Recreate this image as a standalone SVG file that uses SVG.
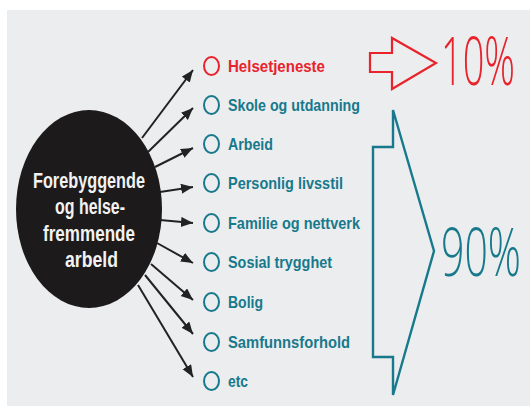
<svg xmlns="http://www.w3.org/2000/svg" width="530" height="416" viewBox="0 0 530 416">
<defs>
<style>
.lbl{font-family:"Liberation Sans",Arial,sans-serif;font-weight:bold;font-size:17px;fill:#17798b}
.red{fill:#e8232b}
.mk{fill:none;stroke:#17798b;stroke-width:2}
.mkr{fill:none;stroke:#e8232b;stroke-width:2}
.ctr{font-family:"Liberation Sans",Arial,sans-serif;font-weight:bold;font-size:22px;fill:#f2f2f2;text-anchor:start}
.big{font-family:"Open Sans","Liberation Sans",sans-serif;font-weight:300;font-size:40px}
.con{stroke:#222;stroke-width:2;fill:none;marker-end:url(#ah)}
</style>
<marker id="ah" markerUnits="userSpaceOnUse" markerWidth="14" markerHeight="12" refX="12" refY="5" orient="auto">
<path d="M0,0 L12,5 L0,10 Z" fill="#222"/>
</marker>
</defs>
<rect x="0" y="0" width="530" height="416" fill="#ffffff"/>
<rect x="7" y="10" width="523" height="396" fill="#ecedef"/>

<g id="connectors">
<line class="con" x1="142" y1="138" x2="193" y2="70"/>
<line class="con" x1="148" y1="152" x2="193" y2="108"/>
<line class="con" x1="155" y1="167" x2="193" y2="148"/>
<line class="con" x1="160" y1="192" x2="193" y2="187"/>
<line class="con" x1="160" y1="220" x2="193" y2="223"/>
<line class="con" x1="157" y1="243" x2="193" y2="263"/>
<line class="con" x1="151" y1="264" x2="193" y2="300"/>
<line class="con" x1="145" y1="275" x2="193" y2="334"/>
<line class="con" x1="138" y1="285" x2="193" y2="377"/>
</g>

<g id="center">
<ellipse cx="89" cy="209" rx="73" ry="99" fill="#1c1a1b"/>
<text class="ctr" x="33" y="188" textLength="112" lengthAdjust="spacingAndGlyphs">Forebyggende</text>
<text class="ctr" x="55" y="214" textLength="70" lengthAdjust="spacingAndGlyphs">og helse-</text>
<text class="ctr" x="43" y="241" textLength="92" lengthAdjust="spacingAndGlyphs">fremmende</text>
<text class="ctr" x="65" y="267" textLength="53" lengthAdjust="spacingAndGlyphs">arbeld</text>
</g>

<g id="item1"><ellipse class="mkr" cx="211.5" cy="66" rx="7.5" ry="9"/><text class="lbl red" x="228" y="72" textLength="97" lengthAdjust="spacingAndGlyphs">Helsetjeneste</text></g>
<g id="item2"><ellipse class="mk" cx="211.5" cy="105" rx="7.5" ry="9"/><text class="lbl" x="228" y="111" textLength="132" lengthAdjust="spacingAndGlyphs">Skole og utdanning</text></g>
<g id="item3"><ellipse class="mk" cx="211.5" cy="144" rx="7.5" ry="9"/><text class="lbl" x="228" y="150" textLength="45" lengthAdjust="spacingAndGlyphs">Arbeid</text></g>
<g id="item4"><ellipse class="mk" cx="211.5" cy="183" rx="7.5" ry="9"/><text class="lbl" x="228" y="189" textLength="115" lengthAdjust="spacingAndGlyphs">Personlig livsstil</text></g>
<g id="item5"><ellipse class="mk" cx="211.5" cy="223" rx="7.5" ry="9"/><text class="lbl" x="228" y="229" textLength="132" lengthAdjust="spacingAndGlyphs">Familie og nettverk</text></g>
<g id="item6"><ellipse class="mk" cx="211.5" cy="262" rx="7.5" ry="9"/><text class="lbl" x="228" y="268" textLength="104" lengthAdjust="spacingAndGlyphs">Sosial trygghet</text></g>
<g id="item7"><ellipse class="mk" cx="211.5" cy="302" rx="7.5" ry="9"/><text class="lbl" x="228" y="308" textLength="35" lengthAdjust="spacingAndGlyphs">Bolig</text></g>
<g id="item8"><ellipse class="mk" cx="211.5" cy="342" rx="7.5" ry="9"/><text class="lbl" x="228" y="348" textLength="122" lengthAdjust="spacingAndGlyphs">Samfunnsforhold</text></g>
<g id="item9"><ellipse class="mk" cx="211.5" cy="381" rx="7.5" ry="9"/><text class="lbl" x="228" y="387" textLength="20" lengthAdjust="spacingAndGlyphs">etc</text></g>

<g id="ten">
<path d="M370,53 L392,53 L392,38 L436,63 L392,89 L392,72 L370,72 Z" fill="none" stroke="#e8232b" stroke-width="2.2" stroke-linejoin="miter"/>
<text class="big" transform="translate(441,85) scale(1,1.65)" x="0" y="0" fill="#e8232b" textLength="74" lengthAdjust="spacingAndGlyphs">10%</text>
</g>

<g id="ninety">
<path d="M393,110 L393,147 L373,147 L373,357 L393,357 L393,395 L434,251 Z" fill="none" stroke="#17798b" stroke-width="2.4" stroke-linejoin="miter"/>
<text class="big" transform="translate(441,276) scale(1,1.65)" x="0" y="0" fill="#17798b" textLength="80" lengthAdjust="spacingAndGlyphs">90%</text>
</g>
</svg>
